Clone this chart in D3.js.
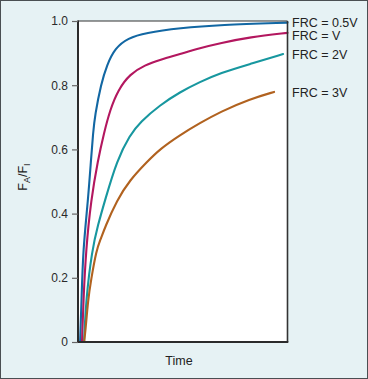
<!DOCTYPE html>
<html><head><meta charset="utf-8">
<script src="https://cdn.jsdelivr.net/npm/d3@7"></script>
<style>html,body{margin:0;padding:0;background:#e6f2f4;}svg{display:block;}</style>
</head><body><svg id="c" width="368" height="379"></svg>
<script>
// ---- data ----
const yTicks = [0, 0.2, 0.4, 0.6, 0.8, 1.0];
const yTickLabels = ["0", "0.2", "0.4", "0.6", "0.8", "1.0"];
const seriesNames = ["FRC = 0.5V", "FRC = V", "FRC = 2V", "FRC = 3V"];
const blueT  = [0.10,0.17,0.24,0.48,0.62,0.72,0.81,1.10,1.38,1.77,2.39,3.20,4.87,6.78,10];
const blueV  = [0,0.131,0.287,0.442,0.567,0.651,0.707,0.804,0.863,0.916,0.947,0.963,0.978,0.988,0.995];
const magT   = [0.19,0.26,0.38,0.62,0.95,1.24,1.53,1.91,2.48,3.20,3.91,4.87,5.82,6.78,8.21,10];
const magV   = [0,0.131,0.287,0.442,0.567,0.651,0.723,0.785,0.835,0.863,0.879,0.897,0.916,0.931,0.950,0.963];
const tealT  = [0.29,0.38,0.67,0.95,1.29,1.86,2.48,2.96,3.91,4.87,5.82,6.78,8.21,9.79];
const tealV  = [0,0.131,0.287,0.364,0.442,0.567,0.645,0.685,0.738,0.779,0.810,0.838,0.866,0.897];
const orT    = [0.29,0.36,0.48,0.62,0.88,1.07,1.29,1.86,2.48,3.29,3.91,4.87,5.82,6.78,8.21,9.36];
const orV    = [0,0.037,0.131,0.193,0.287,0.318,0.358,0.442,0.505,0.561,0.601,0.645,0.682,0.717,0.757,0.779];
const labelY = [23, 36, 55, 93];

const colors = ["#1267a3", "#b3175f", "#17979f", "#b1621f"];

(function(){
const svg = d3.select("#c");
const W = 368, H = 379;
const pL = 78, pR = 287.5, pT = 21, pB = 342;
const font = "Liberation Sans, Arial, sans-serif";

svg.append("rect").attr("x",0.5).attr("y",0.5).attr("width",W-1).attr("height",H-1)
  .attr("fill","#e6f2f4").attr("stroke","#4a4f52").attr("stroke-width",1);

const x = d3.scaleLinear().domain([0,10]).range([pL,pR]);
const y = d3.scaleLinear().domain([0,1]).range([pB,pT]);

svg.append("rect").attr("x",pL).attr("y",pT).attr("width",pR-pL).attr("height",pB-pT).attr("fill","#fff");

const series = [[blueT,blueV],[magT,magV],[tealT,tealV],[orT,orV]];
const line = d3.line().x(d=>x(d[0])).y(d=>y(d[1])).curve(d3.curveBasis);
series.forEach((s,i)=>{
  const pts = s[0].map((t,j)=>[t,s[1][j]]);
  svg.append("path").attr("d",line(pts)).attr("fill","none")
    .attr("stroke",colors[i]).attr("stroke-width",2.1).attr("stroke-linecap","round");
});

// frame
svg.append("line").attr("x1",pL).attr("x2",pR).attr("y1",pT).attr("y2",pT).attr("stroke","#333").attr("stroke-width",1.2);
svg.append("line").attr("x1",pR).attr("x2",pR).attr("y1",pT).attr("y2",pB).attr("stroke","#333").attr("stroke-width",1.6);
svg.append("line").attr("x1",pL).attr("x2",pL).attr("y1",pT-0.6).attr("y2",pB+1).attr("stroke","#2b2b2b").attr("stroke-width",2);
svg.append("line").attr("x1",pL-1).attr("x2",pR+0.8).attr("y1",pB).attr("y2",pB).attr("stroke","#2b2b2b").attr("stroke-width",2);

const ax = svg.append("g").attr("transform",`translate(${pL},0)`)
  .call(d3.axisLeft(y).tickValues(yTicks).tickFormat((d,i)=>yTickLabels[i]).tickSize(6).tickPadding(4));
ax.select(".domain").remove();
ax.selectAll(".tick line").attr("stroke","#666").attr("stroke-width",1.2);
ax.selectAll(".tick text").attr("font-family",font).attr("font-size",12).attr("fill","#2a2a2a");

seriesNames.forEach((n,i)=>{
  svg.append("text").attr("x",292).attr("y",labelY[i]).attr("dy","0.35em")
    .attr("font-family",font).attr("font-size",12.5).attr("fill","#222").text(n);
});

svg.append("text").attr("x",179).attr("y",361).attr("dy","0.35em").attr("text-anchor","middle")
  .attr("font-family",font).attr("font-size",12.5).attr("fill","#222").text("Time");

const yl = svg.append("text").attr("transform","translate(27,177) rotate(-90)").attr("text-anchor","middle")
  .attr("font-family",font).attr("font-size",12.5).attr("fill","#222");
yl.append("tspan").text("F");
yl.append("tspan").attr("font-size",9).attr("dy",3).text("A");
yl.append("tspan").attr("dy",-3).text("/F");
yl.append("tspan").attr("font-size",9).attr("dy",3).text("I");
})();
</script></body></html>
